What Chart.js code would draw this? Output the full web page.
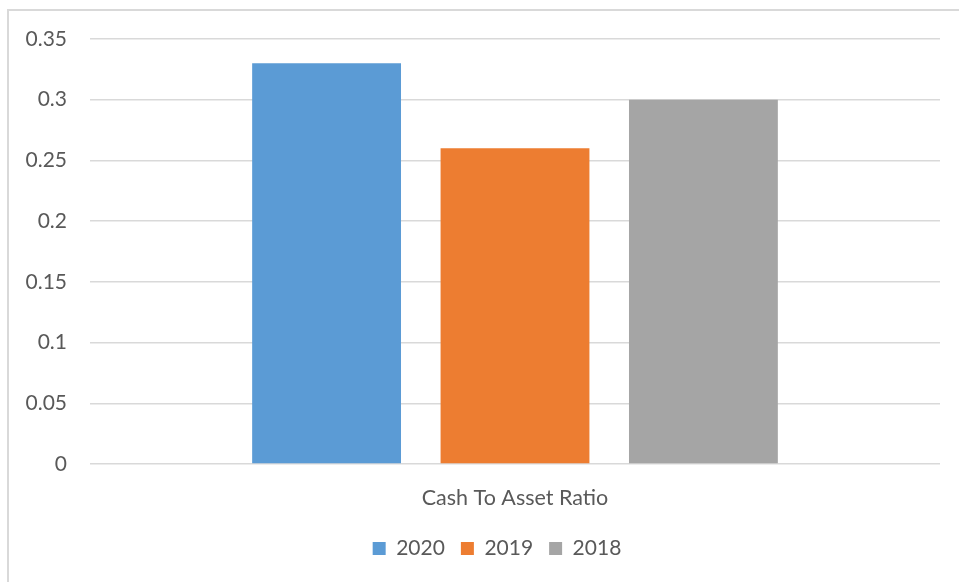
<!DOCTYPE html>
<html>
<head>
<meta charset="utf-8">
<script src="https://cdn.jsdelivr.net/npm/chart.js@4/dist/chart.umd.min.js"></script>
<style>
  html, body { margin: 0; padding: 0; background: #fff; }
  #wrap { width: 959px; height: 582px; }
</style>
</head>
<body>
<div id="wrap"><canvas id="chart" width="959" height="582"></canvas></div>
<script>
const categories = ['Cash To Asset Ratio']
const seriesNames = ['2020', '2019', '2018']
const seriesValues = [[0.33], [0.26], [0.30]]
const seriesColors = ['#5B9BD5', '#ED7D31', '#A5A5A5']
const yTicks = [0, 0.05, 0.1, 0.15, 0.2, 0.25, 0.3, 0.35]

const textColor = '#595959'
const lineColor = '#d9d9d9'
const fontFamily = 'Lato, "Open Sans", sans-serif'

// light frame around the chart, open on the right and bottom
const framePlugin = {
	id: 'frame',
	beforeDraw(chart) {
		const ctx = chart.ctx
		ctx.save()
		ctx.fillStyle = '#fff'
		ctx.fillRect(0, 0, chart.width, chart.height)
		ctx.strokeStyle = lineColor
		ctx.lineWidth = 2
		ctx.strokeRect(8, 10, chart.width + 50, chart.height + 50)
		ctx.restore()
	}
}

// move the legend row right so it sits under the bars rather than the whole canvas
const legendShift = {
	id: 'legendShift',
	afterLayout(chart) {
		const lg = chart.legend
		if (!lg) return
		lg.left += 27
		lg.right += 27
	}
}

const datasets = seriesNames.map((name, i) => ({
	label: name,
	data: seriesValues[i],
	backgroundColor: seriesColors[i],
	borderWidth: 0,
	categoryPercentage: 0.665,
	barPercentage: 0.79
}))

const chart = new Chart(document.getElementById('chart'), {
	type: 'bar',
	data: { labels: categories, datasets },
	plugins: [framePlugin, legendShift],
	options: {
		responsive: false,
		animation: false,
		layout: { padding: { top: 39, right: 19, left: 0, bottom: 13 } },
		plugins: {
			tooltip: { enabled: false },
			legend: {
				position: 'bottom',
				labels: {
					boxWidth: 13,
					boxHeight: 13,
					padding: 16,
					color: textColor,
					font: { family: fontFamily, size: 21 }
				}
			}
		},
		scales: {
			x: {
				grid: { display: false, drawTicks: false },
				border: { display: false },
				ticks: {
					padding: 21,
					color: textColor,
					font: { family: fontFamily, size: 21.5 }
				},
				afterFit: (scale) => { scale.height = 58 }
			},
			y: {
				min: 0,
				max: 0.35,
				afterBuildTicks: (scale) => { scale.ticks = yTicks.map(v => ({ value: v })) },
				grid: { color: lineColor, lineWidth: 1.5, drawTicks: false },
				border: { display: false },
				ticks: {
					padding: 23,
					color: textColor,
					font: { family: fontFamily, size: 21 },
					callback: (v) => String(+v.toFixed(2))
				},
				afterFit: (scale) => { scale.width = 90 }
			}
		}
	}
})
</script>
</body>
</html>
